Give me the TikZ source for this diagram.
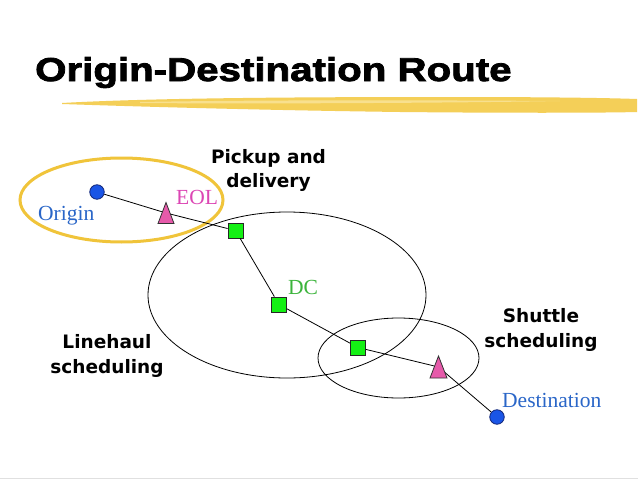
\documentclass[tikz,border=0pt]{standalone}
\usepackage{fontspec}
\setmainfont{Liberation Serif}
\newfontfamily\titlefont{Liberation Sans}[FakeStretch=1.22,BoldFeatures={FakeBold=2.5}]
\newfontfamily\labfont{DejaVu Sans}
\definecolor{goldring}{HTML}{F0C43A}
\definecolor{brushcol}{HTML}{F4CF58}
\definecolor{brushlight}{HTML}{F8E08E}
\definecolor{dotblue}{HTML}{1A55E6}
\definecolor{dotedge}{HTML}{14287A}
\definecolor{txtblue}{HTML}{2A66C8}
\definecolor{trifill}{HTML}{E65AAA}
\definecolor{eolpink}{HTML}{DC46B4}
\definecolor{sqgreen}{HTML}{14F014}
\definecolor{dcgreen}{HTML}{3CB43C}
\begin{document}
\begin{tikzpicture}[x=1pt,y=-1pt,
  region/.style={draw=black, line width=0.8pt},
  conn/.style={draw=black, line width=0.8pt},
  dot/.style={circle, draw=dotedge, fill=dotblue, minimum size=14.5pt, inner sep=0pt, line width=0.8pt},
  sqbox/.style={rectangle, draw=black!85, fill=sqgreen, minimum size=15pt, inner sep=0pt, line width=0.8pt},
  trishape/.style={draw=black!80, fill=trifill, line width=0.8pt, line join=miter},
  boldlab/.style={font=\labfont\bfseries\fontsize{18.5}{24.5}\selectfont, align=center, inner sep=0pt, anchor=base},
  serlab/.style={font=\fontsize{21.5}{21.5}\selectfont, inner sep=0pt, anchor=base west}
]
\useasboundingbox (0,0) rectangle (638,479);
\fill[white] (0,0) rectangle (638,479);

% title and brush stroke
\fill[brushcol] (62,103) .. controls (150,98) and (300,97) .. (450,97)
  .. controls (550,97) and (610,98) .. (637,99) -- (637,112)
  .. controls (600,113) and (500,113) .. (400,112)
  .. controls (250,110) and (120,106) .. (62,104) -- cycle;
\fill[brushlight] (140,102) .. controls (250,100) and (400,100) .. (560,101)
  .. controls (450,103) and (250,104) .. (140,103) -- cycle;
\node[anchor=base west, inner sep=0pt, font=\titlefont\bfseries\fontsize{33}{33}\selectfont] (title) at (35,81) {Origin-Destination Route};

% regions
\draw[goldring, line width=3pt] (121.5,200) ellipse [x radius=101.5, y radius=42];
\draw[region] (287,295) ellipse [x radius=139, y radius=83];
\draw[region] (398.5,358) ellipse [x radius=80.5, y radius=40];

% route nodes
\node[dot] (o) at (97,192) {};
\coordinate (t1) at (166,213);
\node[sqbox] (s1) at (235.5,230.5) {};
\node[sqbox] (dc) at (279,304.5) {};
\node[sqbox] (s3) at (358,347.5) {};
\coordinate (t2) at (438.5,367);
\node[dot] (d) at (497,417) {};

% connectors
\draw[conn] (o) -- (t1) -- (s1);
\draw[conn] (s1) -- (dc);
\draw[conn] (dc) -- (s3);
\draw[conn] (s3) -- (t2) -- (d);

% triangles on top
\filldraw[trishape, shift={(t1)}] (-8,10.5) -- (0,-10.5) -- (8,10.5) -- cycle;
\filldraw[trishape, shift={(t2)}] (-8.5,11) -- (0,-11) -- (8.5,11) -- cycle;

% labels
\node[serlab, text=txtblue] (lorigin) at (38,220) {Origin};
\node[serlab, text=eolpink] (leol) at (176,204) {EOL};
\node[serlab, text=dcgreen] (ldc) at (288,294) {DC};
\node[serlab, text=txtblue] (ldest) at (502,407) {Destination};
\node[boldlab] (lpick) at (268.5,187.5) {Pickup and\\delivery};
\node[boldlab] (lline) at (107,373) {Linehaul\\scheduling};
\node[boldlab] (lshut) at (541,347) {Shuttle\\scheduling};

% slide edge
\draw[black!12, line width=1pt] (0,478) -- (638,478);
\end{tikzpicture}
\end{document}
